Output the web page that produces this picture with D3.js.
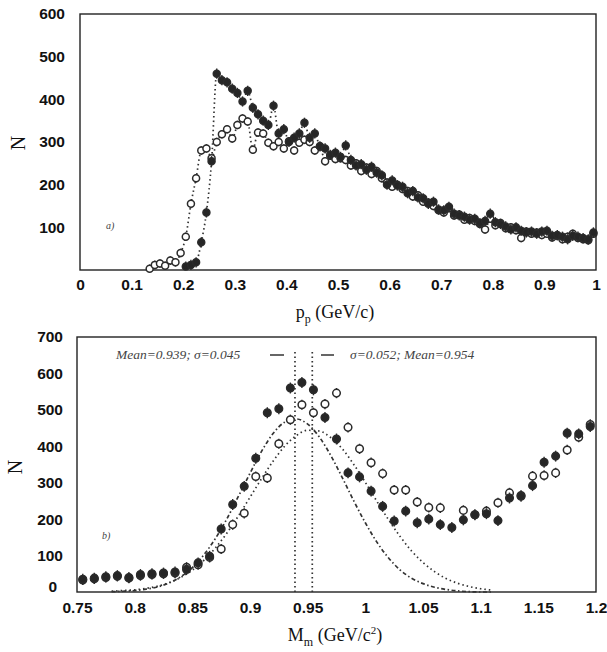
<!DOCTYPE html>
<html>
<head>
<meta charset="utf-8">
<script src="https://cdn.jsdelivr.net/npm/d3@7"></script>
<style>
    body { margin: 0; background: #fff; }
    .tick text { font-family: "Liberation Sans", Arial, sans-serif; font-weight: bold; font-size: 15.5px; fill: #111; }
    .title { font-family: "Liberation Serif", "Times New Roman", serif; fill: #111; }
    .note { font-family: "Liberation Serif", "Times New Roman", serif; font-style: italic; fill: #444; }
</style>
</head>
<body>
<div id="chart"></div>
<script>
// ---- panel a) : proton momentum ----
const topP = [0.135,0.145,0.155,0.165,0.175,0.185,0.195,0.205,0.215,0.225,
    0.235,0.245,0.255,0.265,0.275,0.285,0.295,0.305,0.315,0.325,
    0.335,0.345,0.355,0.365,0.375,0.385,0.395,0.405,0.415,0.425,
    0.435,0.445,0.455,0.465,0.475,0.485,0.495,0.505,0.515,0.525,
    0.535,0.545,0.555,0.565,0.575,0.585,0.595,0.605,0.615,0.625,
    0.635,0.645,0.655,0.665,0.675,0.685,0.695,0.705,0.715,0.725,
    0.735,0.745,0.755,0.765,0.775,0.785,0.795,0.805,0.815,0.825,
    0.835,0.845,0.855,0.865,0.875,0.885,0.895,0.905,0.915,0.925,
    0.935,0.945,0.955,0.965,0.975,0.985,0.995];
const topOpen = [3,12,15,10,22,18,40,78,155,215,
    280,285,262,300,318,330,308,340,355,348,
    282,322,320,298,290,300,285,302,280,298,
    305,300,280,290,255,268,260,262,258,245,
    250,232,240,225,232,215,205,195,200,190,
    185,172,175,160,158,150,140,135,145,128,
    130,118,122,115,108,95,120,105,110,98,
    100,93,75,90,85,88,82,85,76,80,
    72,78,85,75,72,70,85];
const topFilled = [null,null,null,null,null,null,null,8,12,18,
    65,135,255,460,445,440,425,415,395,420,
    380,365,350,340,385,320,330,300,310,320,
    345,310,320,290,285,270,275,265,292,258,
    245,248,235,242,228,222,200,210,198,195,
    180,185,170,168,155,160,142,140,148,132,
    128,125,118,120,110,115,132,112,108,102,
    95,100,92,88,90,85,90,92,80,82,
    78,72,80,78,75,72,88];
const topXTicks = [0,0.1,0.2,0.3,0.4,0.5,0.6,0.7,0.8,0.9,1];
const topXLabels = ['0','0.1','0.2','0.3','0.4','0.5','0.6','0.7','0.8','0.9','1'];
const topYTicks = [100,200,300,400,500,600];

// ---- panel b) : missing mass ----
const botM = [0.755,0.765,0.775,0.785,0.795,0.805,0.815,0.825,0.835,0.845,
    0.855,0.865,0.875,0.885,0.895,0.905,0.915,0.925,0.935,0.945,
    0.955,0.965,0.975,0.985,0.995,1.005,1.015,1.025,1.035,1.045,
    1.055,1.065,1.075,1.085,1.095,1.105,1.115,1.125,1.135,1.145,
    1.155,1.165,1.175,1.185,1.195];
const botFilled = [35,38,42,45,40,48,50,52,55,62,
    80,98,173,240,290,367,492,503,560,575,
    555,479,420,327,316,277,235,195,222,190,
    200,185,177,198,212,215,196,258,263,292,
    356,373,436,434,454];
const botOpen = [33,36,40,43,38,45,48,50,52,68,
    75,95,118,185,216,317,313,407,473,514,
    492,516,546,452,393,355,325,280,280,247,
    232,231,null,224,212,222,245,272,265,318,
    320,327,390,425,460];
// gaussian fits
const fitM = [0.78,0.79,0.80,0.81,0.82,0.83,0.84,0.85,0.86,0.87,0.88,0.89,
    0.90,0.91,0.92,0.93,0.94,0.95,0.96,0.97,0.98,0.99,1.00,1.01,
    1.02,1.03,1.04,1.05,1.06,1.07,1.08,1.09,1.10,1.11];
const fitNarrow = [1,2,4,8,14,25,42,67,102,147,201,263,
    326,386,435,466,475,461,426,375,314,250,190,137,
    94,61,38,23,13,7,3,1,0,0];
const fitWide = [2,4,6,10,16,26,40,60,87,121,162,209,
    260,311,359,400,429,444,442,424,393,350,301,249,
    199,153,113,81,56,37,24,15,9,5];
const meanLines = [0.939, 0.954];
const botXTicks = [0.75,0.8,0.85,0.9,0.95,1,1.05,1.1,1.15,1.2];
const botXLabels = ['0.75','0.8','0.85','0.9','0.95','1','1.05','1.1','1.15','1.2'];
const botYTicks = [0,100,200,300,400,500,600,700];

const svg = d3.select('#chart').append('svg')
    .attr('width', 607)
    .attr('height', 652);

// frame + tick labels for one panel, returns the scales
function drawFrame(cfg) {
    const x = d3.scaleLinear().domain(cfg.xDomain).range([cfg.left, cfg.right]);
    const y = d3.scaleLinear().domain(cfg.yDomain).range([cfg.bottom, cfg.top]);

    svg.append('g')
        .attr('transform', `translate(0,${cfg.bottom})`)
        .call(d3.axisBottom(x).tickValues(cfg.xTicks)
            .tickFormat((d, i) => cfg.xLabels[i]).tickSize(0).tickPadding(cfg.xPad))
        .call(g => g.select('.domain').remove());

    cfg.yAxisG = svg.append('g')
        .attr('transform', `translate(${cfg.left},0)`)
        .call(d3.axisLeft(y).tickValues(cfg.yTicks).tickSize(0).tickPadding(cfg.yPad))
        .call(g => g.select('.domain').remove());

    svg.append('rect')
        .attr('x', cfg.left)
        .attr('y', cfg.top)
        .attr('width', cfg.right - cfg.left)
        .attr('height', cfg.bottom - cfg.top)
        .attr('fill', 'none')
        .attr('stroke', '#222')
        .attr('stroke-width', 1.4);

    return {x, y};
}

// markers with vertical error bars
function drawPoints(g, xs, ys, sc, filled, err, r) {
    const pts = xs.map((v, i) => ({x: v, y: ys[i]})).filter(d => d.y != null);
    g.selectAll(null).data(pts).join('line')
        .attr('x1', d => sc.x(d.x)).attr('x2', d => sc.x(d.x))
        .attr('y1', d => sc.y(d.y + err)).attr('y2', d => sc.y(Math.max(0, d.y - err)))
        .attr('stroke', '#2b2b2b').attr('stroke-width', 1.4);
    g.selectAll(null).data(pts).join('circle')
        .attr('cx', d => sc.x(d.x))
        .attr('cy', d => sc.y(d.y))
        .attr('r', r)
        .attr('fill', filled ? '#262626' : '#fff')
        .attr('stroke', '#2b2b2b')
        .attr('stroke-width', 1.5);
}

function drawCurve(g, xs, ys, sc, dash) {
    const line = d3.line()
        .defined(d => d.y != null)
        .x(d => sc.x(d.x))
        .y(d => sc.y(d.y))
        .curve(d3.curveMonotoneX);
    g.append('path')
        .datum(xs.map((v, i) => ({x: v, y: ys[i]})))
        .attr('d', line)
        .attr('fill', 'none')
        .attr('stroke', '#333')
        .attr('stroke-width', 1.7)
        .attr('stroke-dasharray', dash);
}

// ---------- panel a ----------
const topCfg = {left: 80, right: 596, top: 14, bottom: 270,
    xDomain: [0, 1], yDomain: [0, 600],
    xTicks: topXTicks, xLabels: topXLabels, yTicks: topYTicks, xPad: 9, yPad: 15};
const topSc = drawFrame(topCfg);
const topG = svg.append('g');
drawCurve(topG, topP, topOpen, topSc, '1.5,3');
drawCurve(topG, topP, topFilled, topSc, '1.5,3');
drawPoints(topG, topP, topOpen, topSc, false, 10, 3.5);
drawPoints(topG, topP, topFilled, topSc, true, 12, 3.5);

svg.append('text').attr('class', 'title')
    .attr('transform', 'translate(25,143) rotate(-90)')
    .attr('text-anchor', 'middle')
    .style('font-size', '20px')
    .text('N');
const pTitle = svg.append('text').attr('class', 'title')
    .attr('x', 335).attr('y', 318)
    .attr('text-anchor', 'middle')
    .style('font-size', '18px');
pTitle.append('tspan').text('p');
pTitle.append('tspan').attr('dy', 5).style('font-size', '12px').text('p');
pTitle.append('tspan').attr('dy', -5).text(' (GeV/c)');
svg.append('text').attr('class', 'note')
    .attr('x', 106).attr('y', 229)
    .style('font-size', '10px')
    .text('a)');

// ---------- panel b ----------
const botCfg = {left: 77, right: 596, top: 337, bottom: 592,
    xDomain: [0.75, 1.2], yDomain: [0, 700],
    xTicks: botXTicks, xLabels: botXLabels, yTicks: botYTicks, xPad: 10, yPad: 14};
const botSc = drawFrame(botCfg);
// the "0" label sits a bit off the corner
botCfg.yAxisG.selectAll('.tick').filter(d => d === 0).select('text')
    .attr('dx', -6).attr('dy', '-0.05em');

const botG = svg.append('g');
meanLines.forEach(m => {
    botG.append('line')
        .attr('x1', botSc.x(m)).attr('x2', botSc.x(m))
        .attr('y1', botSc.y(0)).attr('y2', botSc.y(662))
        .attr('stroke', '#333').attr('stroke-width', 1.7)
        .attr('stroke-dasharray', '1.5,3');
});
drawCurve(botG, fitM, fitNarrow, botSc, '4,2.5,1.5,2.5');
drawCurve(botG, fitM, fitWide, botSc, '1.5,3');
drawPoints(botG, botM, botOpen, botSc, false, 14, 3.8);
drawPoints(botG, botM, botFilled, botSc, true, 15, 3.8);

// fit annotations
svg.append('text').attr('class', 'note')
    .attr('x', 116).attr('y', 359)
    .style('font-size', '13.5px')
    .text('Mean=0.939; σ=0.045');
svg.append('text').attr('class', 'note')
    .attr('x', 350).attr('y', 359)
    .style('font-size', '13.5px')
    .text('σ=0.052; Mean=0.954');
[[270, 284], [321, 334]].forEach(([a, b]) => {
    svg.append('line')
        .attr('x1', a).attr('x2', b).attr('y1', 355).attr('y2', 355)
        .attr('stroke', '#333').attr('stroke-width', 1.5);
});

svg.append('text').attr('class', 'title')
    .attr('transform', 'translate(22,467) rotate(-90)')
    .attr('text-anchor', 'middle')
    .style('font-size', '20px')
    .text('N');
const mTitle = svg.append('text').attr('class', 'title')
    .attr('x', 335).attr('y', 641)
    .attr('text-anchor', 'middle')
    .style('font-size', '18px');
mTitle.append('tspan').text('M');
mTitle.append('tspan').attr('dy', 5).style('font-size', '12px').text('m');
mTitle.append('tspan').attr('dy', -5).text(' (GeV/c');
mTitle.append('tspan').attr('dy', -7).style('font-size', '11px').text('2');
mTitle.append('tspan').attr('dy', 7).text(')');
svg.append('text').attr('class', 'note')
    .attr('x', 102).attr('y', 539)
    .style('font-size', '10px')
    .text('b)');
</script>
</body>
</html>
